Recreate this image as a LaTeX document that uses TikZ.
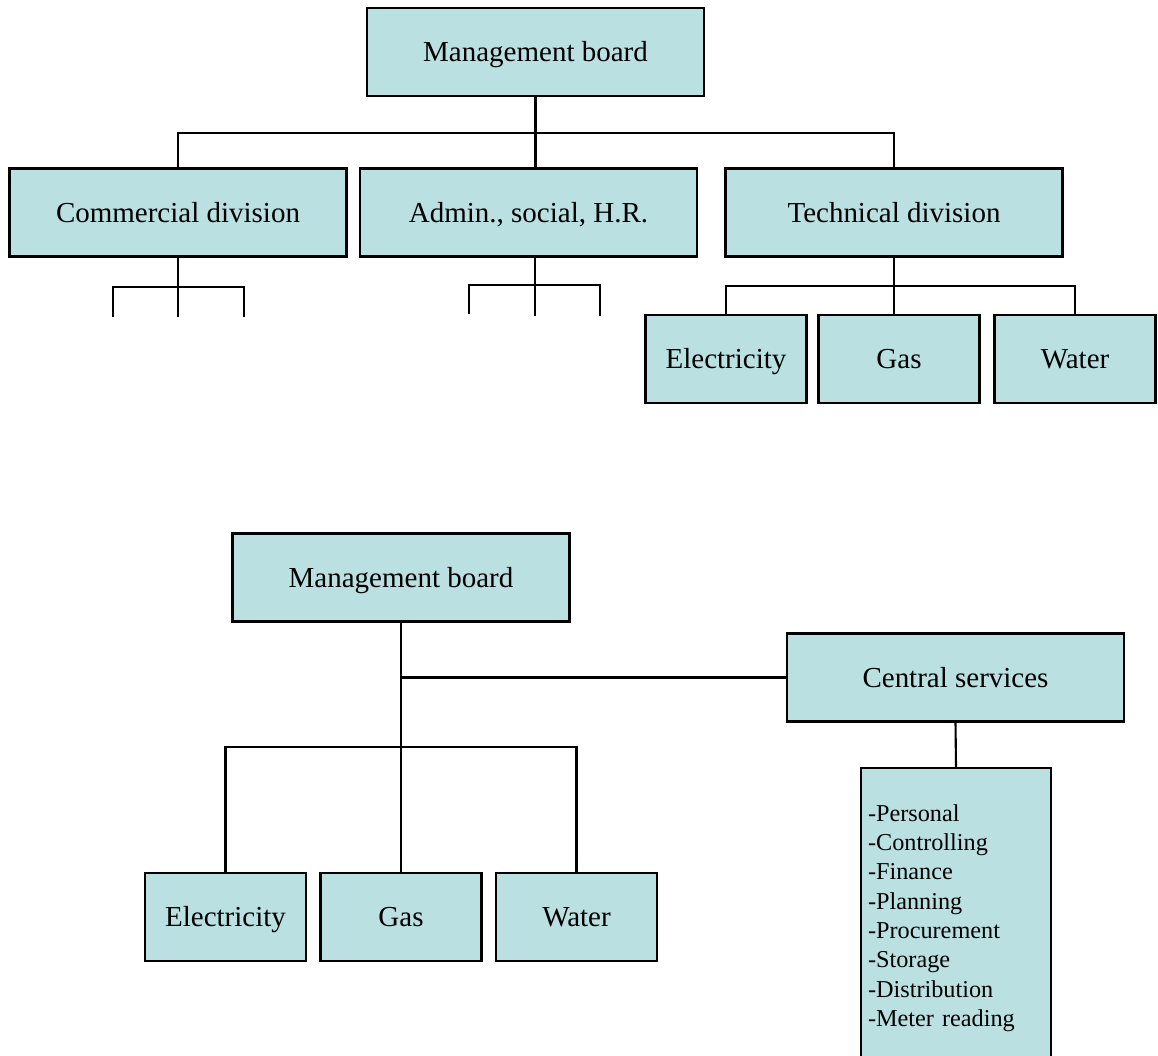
\documentclass[tikz,border=0pt]{standalone}
\usepackage{fontspec}
\setmainfont{Liberation Serif}
\definecolor{boxfill}{RGB}{186,224,226}

\begin{document}
\begin{tikzpicture}[x=0.02cm,y=-0.02cm]
\tikzset{
  unitbox/.style={rectangle,draw,line width=1.2pt,fill=boxfill,minimum width=6.74cm,minimum height=1.76cm,inner sep=1pt,text height=10.9pt,text depth=0pt,font=\fontsize{16.5}{20}\selectfont},
  smallbox/.style={unitbox,minimum width=3.22cm},
  listbox/.style={rectangle,draw,line width=1.2pt,fill=boxfill,minimum height=6cm,text width=3.52cm,inner xsep=0.14cm,align=left,font=\fontsize{13.8}{16.7}\selectfont},
  link/.style={line width=1.2pt}
}
\clip (0,0) rectangle (1158,1055);
\useasboundingbox (0,0) rectangle (1158,1055);
% upper chart
\node[unitbox] (mb_top) at (535.5,52) {Management board};
\node[unitbox] (n_comm) at (178,212.5) {Commercial division};
\node[unitbox] (n_admin) at (528.5,212.5) {Admin., social, H.R.};
\node[unitbox] (n_tech) at (894,212.5) {Technical division};
\node[smallbox] (t_elec) at (726,359) {Electricity};
\node[smallbox] (t_gas) at (899,359) {Gas};
\node[smallbox] (t_water) at (1075,359) {Water};
\coordinate (bus_top) at (537,133);
\coordinate (bus_comm) at (178,287);
\coordinate (c_1) at (113,317);
\coordinate (c_2) at (178,317);
\coordinate (c_3) at (244,317);
\coordinate (bus_admin) at (535,285);
\coordinate (a_1) at (469,314);
\coordinate (a_2) at (535,316);
\coordinate (a_3) at (600,316);
\coordinate (bus_tech) at (894,286);
\draw[link] (n_comm.north) |- (bus_top) -| (n_tech.north);
\draw[link] (mb_top.south) -- (mb_top.south |- n_admin.north);
\draw[link] (n_comm.south) -- (c_2);
\draw[link] (c_1) |- (bus_comm) -| (c_3);
\draw[link] (bus_admin |- n_admin.south) -- (a_2);
\draw[link] (a_1) |- (bus_admin) -| (a_3);
\draw[link] (n_tech.south) -- (n_tech.south |- t_gas.north);
\draw[link] (t_elec.north) |- (bus_tech) -| (t_water.north);
% lower chart
\node[unitbox] (mb_low) at (401,577.5) {Management board};
\node[unitbox] (n_central) at (955.5,677.5) {Central services};
\node[smallbox] (b_elec) at (225.5,917) {Electricity};
\node[smallbox] (b_gas) at (401,917) {Gas};
\node[smallbox] (b_water) at (576.5,917) {Water};
\node[listbox,anchor=north] (n_list) at (956,767) {-Personal\\-Controlling\\-Finance\\-Planning\\-Procurement\\-Storage\\-Distribution\\-Meter reading};
\coordinate (bus_low) at (401,747);
\draw[link] (mb_low.south) -- (b_gas.north);
\draw[link] (mb_low.south |- n_central.west) -- (n_central.west);
\draw[link] (b_elec.north) |- (bus_low) -| (b_water.north);
\draw[link] (n_central.south) -- (n_list.north);
\end{tikzpicture}
\end{document}
